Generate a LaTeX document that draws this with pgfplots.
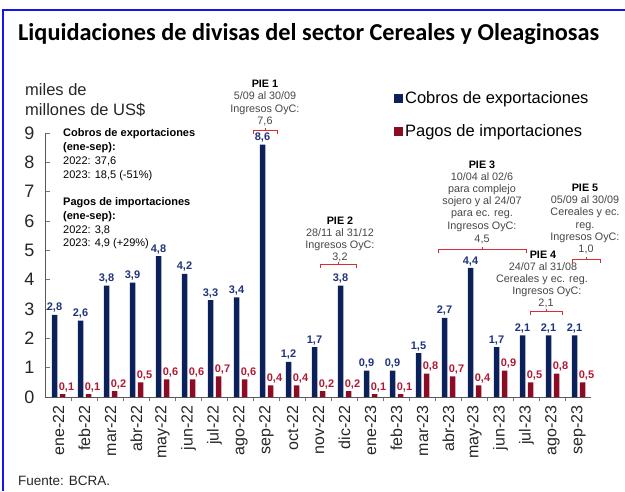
\documentclass[border=0pt]{standalone}
\usepackage{fontspec}
\setmainfont{Liberation Sans}
\newfontfamily\titlefont{Carlito}
\usepackage{pgfplots}
\usepackage{pgfplotstable}
\pgfplotsset{compat=1.18}
\definecolor{cblue}{RGB}{12,33,92}
\definecolor{cred}{RGB}{140,12,36}
\definecolor{lblue}{RGB}{32,52,122}
\definecolor{lred}{RGB}{178,24,50}
\definecolor{brk}{RGB}{215,45,55}
\definecolor{txt}{RGB}{70,70,70}
\definecolor{frame}{RGB}{20,20,240}
\pgfplotstableread{
x exp imp
0 2.8 0.1
1 2.6 0.1
2 3.8 0.2
3 3.9 0.5
4 4.8 0.6
5 4.2 0.6
6 3.3 0.7
7 3.4 0.6
8 8.6 0.4
9 1.2 0.4
10 1.7 0.2
11 3.8 0.2
12 0.9 0.1
13 0.9 0.1
14 1.5 0.8
15 2.7 0.7
16 4.4 0.4
17 1.7 0.9
18 2.1 0.5
19 2.1 0.8
20 2.1 0.5
}\data
\newcommand{\tl}[4][]{\node[anchor=base west,inner sep=0,font=\fontsize{11}{11}\selectfont,#1] at (#2,491-#3) {#4};}
\newcommand{\tc}[4][]{\node[anchor=base,inner sep=0,font=\fontsize{10.8}{11}\selectfont,text=txt,#1] at (#2,491-#3) {#4};}
\newcommand{\brk}[3]{\draw[brk,line width=1pt] (#1,491-#3-3.5) -- (#1,491-#3) -- (#2,491-#3) -- (#2,491-#3-3.5); \draw[brk,line width=1pt] ({(#1+#2)/2},491-#3) -- ({(#1+#2)/2},491-#3+2.5);}
\begin{document}
\begin{tikzpicture}[x=1pt,y=1pt]
\path[use as bounding box] (0,0) rectangle (625,491);
\draw[frame,line width=2pt] (3,0) -- (3,481) -- (626,481);
\node[anchor=base west,inner sep=0,font=\titlefont\bfseries\fontsize{24.3}{24.3}\selectfont] at (18,450) {Liquidaciones de divisas del sector Cereales y Oleaginosas};
\node[anchor=base west,inner sep=0,font=\fontsize{16.5}{16.5}\selectfont,text=black!85] at (25,395) {miles de};
\node[anchor=base west,inner sep=0,font=\fontsize{16.5}{16.5}\selectfont,text=black!85] at (25,375) {millones de US\$};
\begin{axis}[
  at={(45pt,94pt)}, anchor=south west,
  scale only axis, width=546pt, height=264pt,
  xmin=-0.52, xmax=20.48, ymin=0, ymax=9,
  clip=false,
  axis lines=left,
  axis line style={-, draw=black!65, line width=0.9pt},
  ytick={0,...,9},
  xtick={0,...,20},
  xticklabels={ene-22,feb-22,mar-22,abr-22,may-22,jun-22,jul-22,ago-22,sep-22,oct-22,nov-22,dic-22,ene-23,feb-23,mar-23,abr-23,may-23,jun-23,jul-23,ago-23,sep-23},
  minor xtick={0.5,1.5,...,19.5},
  major x tick style={draw=none},
  minor x tick style={draw=black!55, line width=0.7pt},
  minor tick length=4pt,
  major y tick style={draw=black!55, line width=0.7pt},
  major tick length=5pt,
  tick align=inside,
  /pgf/number format/assume math mode=true,
  yticklabel style={font=\fontsize{18}{18}\selectfont, text=black!85, xshift=-7pt},
  xticklabel style={font=\fontsize{16}{16}\selectfont, text=black!85, rotate=90, anchor=east},
  ybar=2.5pt, bar width=5.5pt,
  legend style={at={(0.639,1.166)}, anchor=north west, draw=none, fill=none,
    font=\fontsize{16.5}{18}\selectfont, row sep=16pt, inner sep=0pt,
    /tikz/every even column/.append style={column sep=0pt}},
  legend cell align=left,
  legend image code/.code={\fill[#1] (0pt,-4.5pt) rectangle (9pt,4.5pt);},
]
\addplot[fill=cblue, draw=none, nodes near coords={\pgfmathprintnumber[use comma,fixed,fixed zerofill,precision=1]{\pgfplotspointmeta}},
  nodes near coords style={font=\bfseries\fontsize{11}{11}\selectfont, text=lblue, inner sep=2pt}] table[x=x,y=exp]{\data};
\addlegendentry{Cobros de exportaciones}
\addplot[fill=cred, draw=none, nodes near coords={\pgfmathprintnumber[use comma,fixed,fixed zerofill,precision=1]{\pgfplotspointmeta}},
  nodes near coords style={font=\bfseries\fontsize{11}{11}\selectfont, text=lred, inner sep=2pt, xshift=4pt}] table[x=x,y=imp]{\data};
\addlegendentry{Pagos de importaciones}
\end{axis}
% left info box
\tl[font=\bfseries\fontsize{11}{11}\selectfont]{63}{137}{Cobros de exportaciones}
\tl[font=\bfseries\fontsize{11}{11}\selectfont]{63}{151}{(ene-sep):}
\tl{63}{165}{2022: 37,6}
\tl{63}{179}{2023: 18,5 (-51\%)}
\tl[font=\bfseries\fontsize{11}{11}\selectfont]{63}{206}{Pagos de importaciones}
\tl[font=\bfseries\fontsize{11}{11}\selectfont]{63}{220}{(ene-sep):}
\tl{63}{234}{2022: 3,8}
\tl{63}{247}{2023: 4,9 (+29\%)}
% PIE 1
\tc[font=\bfseries\fontsize{10.8}{11}\selectfont,text=black]{265}{88}{PIE 1}
\tc{265}{100}{5/09 al 30/09}
\tc{265}{113}{Ingresos OyC:}
\tc{265}{125}{7,6}
\brk{253}{277}{130.5}
% PIE 2
\tc[font=\bfseries\fontsize{10.8}{11}\selectfont,text=black]{340}{225}{PIE 2}
\tc{340}{237}{28/11 al 31/12}
\tc{340}{249}{Ingresos OyC:}
\tc{340}{261}{3,2}
\brk{320}{356}{265}
% PIE 3
\tc[font=\bfseries\fontsize{10.8}{11}\selectfont,text=black]{482}{169}{PIE 3}
\tc{482}{181}{10/04 al 02/6}
\tc{482}{193}{para complejo}
\tc{482}{205}{sojero y al 24/07}
\tc{482}{217}{para ec. reg.}
\tc{482}{230}{Ingresos OyC:}
\tc{482}{243}{4,5}
\brk{438}{526}{250}
% PIE 4
\tc[font=\bfseries\fontsize{10.8}{11}\selectfont,text=black]{543}{259}{PIE 4}
\tc{543}{271}{24/07 al 31/08}
\tc{542}{283}{Cereales y ec. reg.}
\tc{547}{295}{Ingresos OyC:}
\tc{546}{307}{2,1}
\brk{530}{562}{312}
% PIE 5
\tc[font=\bfseries\fontsize{10.8}{11}\selectfont,text=black]{585}{192}{PIE 5}
\tc{585}{204}{05/09 al 30/09}
\tc{585}{216}{Cereales y ec.}
\tc{585}{229}{reg.}
\tc{585}{241}{Ingresos OyC:}
\tc{586}{253}{1,0}
\brk{572}{600}{260}
\node[anchor=base west,inner sep=0,font=\fontsize{13.5}{13.5}\selectfont,text=black!85] at (18,6) {Fuente: BCRA.};
\end{tikzpicture}
\end{document}
